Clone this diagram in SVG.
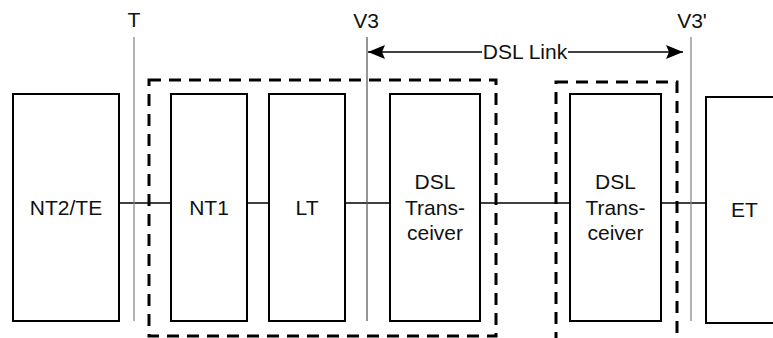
<svg xmlns="http://www.w3.org/2000/svg" width="773" height="338" viewBox="0 0 773 338">
<style>
  .box { fill: #fff; stroke: #000; stroke-width: 2; }
  .dash { fill: none; stroke: #000; stroke-width: 3; stroke-dasharray: 12 8; }
  .ref { stroke: #808080; stroke-width: 1.2; }
  .conn { stroke: #000; stroke-width: 1.5; fill: none; }
  text { font-family: "Liberation Sans", Arial, sans-serif; font-size: 21px; fill: #111; text-anchor: middle; }
</style>
<defs>
  <marker id="ah" viewBox="0 0 17 14" refX="17" refY="7" markerWidth="17" markerHeight="14" markerUnits="userSpaceOnUse" orient="auto-start-reverse">
    <path d="M0,0 L17,7 L0,14 L3,7 Z" fill="#000"/>
  </marker>
</defs>
<rect width="773" height="338" fill="#fff"/>

<g id="connectors">
  <line class="conn" x1="119" y1="203" x2="171" y2="203"/>
  <line class="conn" x1="247" y1="203" x2="269" y2="203"/>
  <line class="conn" x1="345" y1="203" x2="390" y2="203"/>
  <line class="conn" x1="480" y1="203" x2="570" y2="203"/>
  <line class="conn" x1="661" y1="203" x2="706" y2="203"/>
</g>

<g id="ref-T">
  <line class="ref" x1="134" y1="37" x2="134" y2="321"/>
  <text x="134" y="27">T</text>
</g>
<g id="ref-V3">
  <line class="ref" x1="367" y1="37" x2="367" y2="321" style="stroke:#505050"/>
  <text x="366" y="28">V3</text>
</g>
<g id="ref-V3p">
  <line class="ref" x1="691" y1="37" x2="691" y2="321"/>
  <text x="692" y="28">V3'</text>
</g>

<g id="dsl-link">
  <line x1="368" y1="52" x2="482" y2="52" stroke="#000" stroke-width="1.6" marker-start="url(#ah)"/>
  <line x1="568" y1="52" x2="683" y2="52" stroke="#000" stroke-width="1.6" marker-end="url(#ah)"/>
  <text x="525" y="58.5">DSL Link</text>
</g>

<g id="group-left">
  <rect class="dash" x="149" y="80" width="347" height="256"/>
</g>
<g id="group-right">
  <rect class="dash" x="556" y="82" width="121" height="270"/>
</g>

<g id="nt2te">
  <rect class="box" x="13" y="94" width="106" height="227"/>
  <text x="66" y="214.5">NT2/TE</text>
</g>
<g id="nt1">
  <rect class="box" x="171" y="94" width="76" height="227"/>
  <text x="209" y="214.5">NT1</text>
</g>
<g id="lt">
  <rect class="box" x="269" y="94" width="76" height="227"/>
  <text x="307" y="214.5">LT</text>
</g>
<g id="dsl1">
  <rect class="box" x="390" y="94" width="90" height="227"/>
  <text x="435" y="189">DSL</text>
  <text x="435" y="214.5">Trans-</text>
  <text x="435" y="240">ceiver</text>
</g>
<g id="dsl2">
  <rect class="box" x="570" y="94" width="91" height="227"/>
  <text x="615.5" y="189">DSL</text>
  <text x="615.5" y="214.5">Trans-</text>
  <text x="615.5" y="240">ceiver</text>
</g>
<g id="et">
  <rect class="box" x="706" y="97" width="90" height="226"/>
  <text x="744.5" y="217">ET</text>
</g>
</svg>
